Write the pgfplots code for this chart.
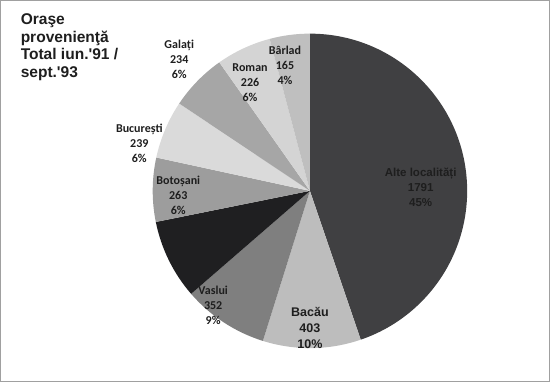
\documentclass[border=0pt]{standalone}
\usepackage{pgfplots}
\pgfplotsset{compat=1.18}
\usepackage{pgfplotstable}
\usepackage{fontspec}
\setmainfont{Liberation Sans}
\newfontfamily\titlefont{Liberation Sans}
\newfontfamily\calfont{Carlito}

\definecolor{slice0}{HTML}{404042}
\definecolor{slice1}{HTML}{BDBDBD}
\definecolor{slice2}{HTML}{7F7F7F}
\definecolor{slice3}{HTML}{1F1F21}
\definecolor{slice4}{HTML}{9D9D9D}
\definecolor{slice5}{HTML}{DADADA}
\definecolor{slice6}{HTML}{A6A6A6}
\definecolor{slice7}{HTML}{D4D4D4}
\definecolor{slice8}{HTML}{BFBFBF}
\definecolor{framegray}{HTML}{A0A0A0}
\definecolor{txt}{HTML}{1E1E1E}

\pgfplotstableread{
name value
Alte 1791
Bacau 403
Vaslui 352
Altele 328
Botosani 263
Bucuresti 239
Galati 234
Roman 226
Barlad 165
}\piedata

\begin{document}
\begin{tikzpicture}
\gdef\cumsum{0}
\foreach \i in {0,...,8}{%
  \pgfplotstablegetelem{\i}{value}\of\piedata
  \pgfmathsetmacro\tmp{\cumsum+\pgfplotsretval}%
  \xdef\cumsum{\tmp}%
}
\xdef\total{\cumsum}
\gdef\cumsum{0}
\foreach \i in {0,...,8}{%
  \pgfplotstablegetelem{\i}{value}\of\piedata
  \pgfmathsetmacro\sa{90-360*(\cumsum/\total)}%
  \pgfmathsetmacro\tmp{\cumsum+\pgfplotsretval}%
  \xdef\cumsum{\tmp}%
  \pgfmathsetmacro\ea{90-360*(\cumsum/\total)}%
  \expandafter\xdef\csname sa\i\endcsname{\sa}%
  \expandafter\xdef\csname ea\i\endcsname{\ea}%
}
\begin{axis}[scale only axis, width=548pt, height=380pt,
  xmin=0, xmax=550, ymin=0, ymax=382, ticks=none,
  axis line style={draw=framegray, line width=1.2pt}, clip=false]
\pgfplotsinvokeforeach{0,...,8}{
  \fill[slice#1] (axis cs:310,191) -- ++(\csname sa#1\endcsname:157pt)
    arc[start angle=\csname sa#1\endcsname, end angle=\csname ea#1\endcsname, radius=157pt] -- cycle;
}
\node[anchor=north west, align=left, inner sep=0pt, text=txt,
  font=\titlefont\fontsize{15.5}{17.5}\selectfont\bfseries] at (axis cs:20,369)
  {Oraşe\\provenienţă\\Total iun.'91 /\\sept.'93};
\tikzset{lab/.style={align=center, inner sep=0pt, text=txt,
  font=\calfont\fontsize{12}{15}\selectfont\bfseries}}
\node[lab] at (axis cs:179,323) {Galați\\234\\6\%};
\node[lab] at (axis cs:250,300) {Roman\\226\\6\%};
\node[lab] at (axis cs:285,317) {Bârlad\\165\\4\%};
\node[lab] at (axis cs:139,239) {București\\239\\6\%};
\node[lab] at (axis cs:178,187) {Botoșani\\263\\6\%};
\node[lab] at (axis cs:213,76) {Vaslui\\352\\9\%};
\node[align=center, inner sep=0pt, text=txt,
  font=\fontsize{12.5}{16}\selectfont\bfseries] at (axis cs:310,53) {Bacău\\403\\10\%};
\node[align=center, inner sep=0pt, text=txt,
  font=\fontsize{11.5}{15}\selectfont\bfseries] at (axis cs:421,195) {Alte localități\\1791\\45\%};
\end{axis}
\end{tikzpicture}
\end{document}
